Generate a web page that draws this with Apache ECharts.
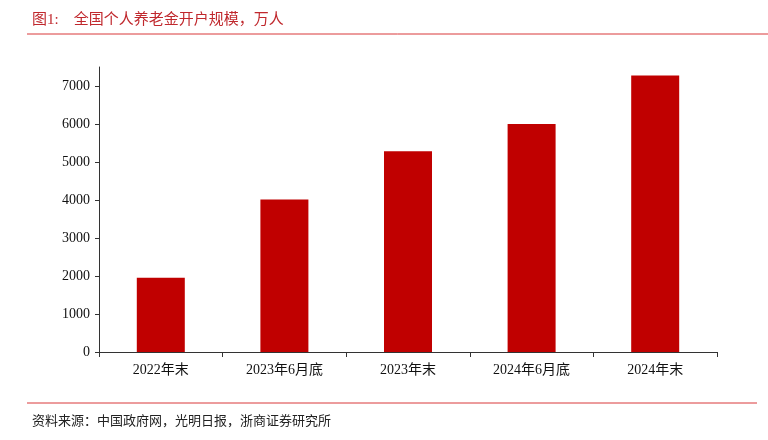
<!DOCTYPE html>
<html><head><meta charset="utf-8">
<script src="https://cdn.jsdelivr.net/npm/echarts@6/dist/echarts.min.js"></script>
<style>html,body{margin:0;padding:0;background:#fff}#c{width:768px;height:440px}</style>
</head><body><div id="c"></div>
<script>
var categories = ['2022年末', '2023年6月底', '2023年末', '2024年6月底', '2024年末'];
var accounts = [1954, 4010, 5280, 6000, 7279];
var yTicks = [0, 1000, 2000, 3000, 4000, 5000, 6000, 7000];
var titleText = '图1:　全国个人养老金开户规模，万人';
var sourceText = '资料来源：中国政府网，光明日报，浙商证券研究所';

var font = '"Liberation Serif", "Noto Sans CJK SC", serif';
var chart = echarts.init(document.getElementById('c'));
chart.setOption({
  animation: false,
  title: [{
    text: titleText, left: 27, top: 8,
    textStyle: { color: '#c0282d', fontSize: 15, fontWeight: 'normal', fontFamily: font }
  }, {
    text: sourceText, left: 27, top: 410,
    textStyle: { color: '#222', fontSize: 13, fontWeight: 'normal', fontFamily: font }
  }],
  graphic: [
    { type: 'line', shape: { x1: 27, y1: 34, x2: 768, y2: 34 }, style: { stroke: '#d9383a', lineWidth: 1 } },
    { type: 'line', shape: { x1: 27, y1: 403, x2: 757, y2: 403 }, style: { stroke: '#d9383a', lineWidth: 1 } }
  ],
  grid: { left: 99, right: 51, top: 67, bottom: 88 },
  xAxis: {
    type: 'category', data: categories,
    axisLine: { lineStyle: { color: '#333', width: 1 } },
    axisTick: { show: true, alignWithLabel: false, length: 5, inside: false, lineStyle: { color: '#333' } },
    axisLabel: { color: '#111', fontSize: 14, fontFamily: font, margin: 11 }
  },
  yAxis: {
    type: 'value', min: 0, max: 7500,
    axisLine: { show: true, lineStyle: { color: '#333', width: 1 } },
    axisTick: { show: true, length: 4, customValues: yTicks, lineStyle: { color: '#333' } },
    axisLabel: { color: '#111', fontSize: 14, fontFamily: font, margin: 9, customValues: yTicks,
      formatter: function (v) { return String(v); } },
    splitLine: { show: false }
  },
  series: [{
    type: 'bar', data: accounts, barWidth: 48,
    itemStyle: { color: '#c00000' }
  }]
});
</script></body></html>
